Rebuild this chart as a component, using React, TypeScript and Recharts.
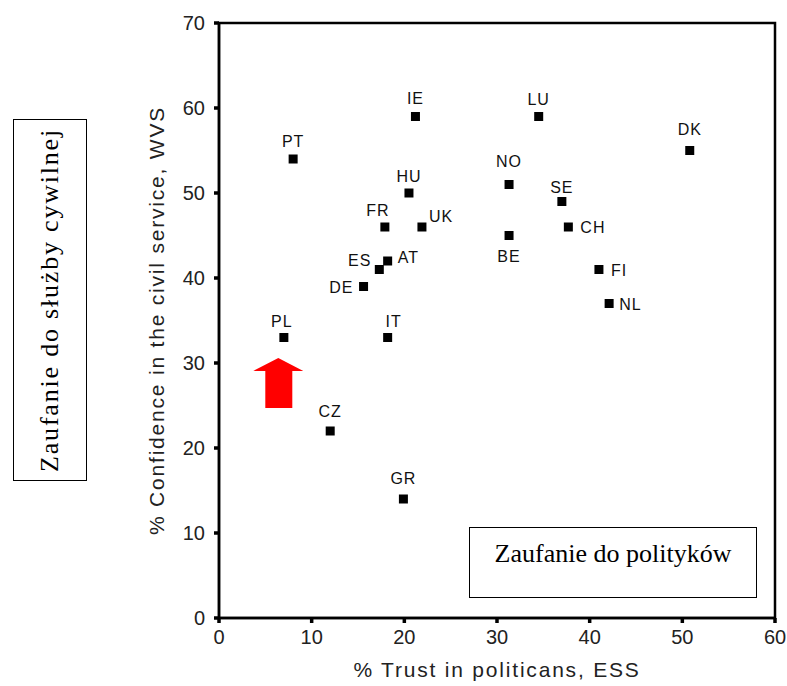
import { ReferenceArea, ReferenceDot, Scatter, ScatterChart, XAxis, YAxis } from "recharts";

// countries and their values
const countries = ["IE", "PT", "HU", "FR", "UK", "ES", "AT", "DE", "PL", "IT", "CZ", "GR", "LU", "DK", "NO", "SE", "CH", "BE", "FI", "NL"];
const trustInPoliticians = [21.2, 8.0, 20.5, 17.9, 21.9, 17.3, 18.2, 15.6, 7.0, 18.2, 12.0, 19.9, 34.5, 50.8, 31.3, 37.0, 37.7, 31.3, 41.0, 42.1];
const confidenceCivilService = [59, 54, 50, 46, 46, 41, 42, 39, 33, 33, 22, 14, 59, 55, 51, 49, 46, 45, 41, 37];

const xTicks = [0, 10, 20, 30, 40, 50, 60];
const yTicks = [0, 10, 20, 30, 40, 50, 60, 70];

// label layout: [dx, dy, anchor] relative to the marker centre
const labelLayout: Record<string, [number, number, "start" | "middle" | "end"]> = {
  IE: [0, -13, "middle"],
  PT: [0, -12, "middle"],
  HU: [0, -11, "middle"],
  FR: [-7, -11, "middle"],
  UK: [7, -5, "start"],
  ES: [-8, -4, "end"],
  AT: [10, 2, "start"],
  DE: [-10, 6, "end"],
  PL: [-2, -11, "middle"],
  IT: [6, -11, "middle"],
  CZ: [0, -14, "middle"],
  GR: [0, -15, "middle"],
  LU: [0, -12, "middle"],
  DK: [0, -16, "middle"],
  NO: [0, -18, "middle"],
  SE: [0, -9, "middle"],
  CH: [12, 6, "start"],
  BE: [0, 26, "middle"],
  FI: [12, 6, "start"],
  NL: [10, 6, "start"],
};

const points = countries.map((code, i) => ({ code, x: trustInPoliticians[i], y: confidenceCivilService[i] }));

const sans = "'Liberation Sans', Arial, sans-serif";
const serif = "'Liberation Serif', 'Times New Roman', serif";

function CountryMarker(props: any) {
  const { cx, cy, payload } = props;
  const [dx, dy, anchor] = labelLayout[payload.code] ?? [0, -12, "middle"];
  return (
    <g>
      <rect x={cx - 4.5} y={cy - 4.5} width={9} height={9} fill="#000" />
      <text x={cx + dx} y={cy + dy} textAnchor={anchor} fontFamily={sans} fontSize={16} letterSpacing={1} fill="#111">
        {payload.code}
      </text>
    </g>
  );
}

function RedArrow(props: any) {
  const { cx, cy } = props;
  const d = `M${cx},${cy} L${cx + 25},${cy + 13} L${cx + 14},${cy + 13} L${cx + 14},${cy + 50} L${cx - 13},${cy + 50} L${cx - 13},${cy + 13} L${cx - 25},${cy + 13} Z`;
  return <path d={d} fill="#ff0000" />;
}

export default function App() {
  return (
    <div style={{ position: "absolute", left: 0, top: 0, width: 787, height: 686, background: "#fff" }}>
      <ScatterChart width={787} height={686} margin={{ top: 23, right: 12, bottom: 6, left: 159 }}>
        <XAxis
          type="number"
          dataKey="x"
          domain={[0, 60]}
          ticks={xTicks}
          axisLine={{ stroke: "#000", strokeWidth: 2.5 }}
          tickLine={{ stroke: "#000", strokeWidth: 3.5 }}
          tickSize={5}
          tickMargin={7}
          height={62}
          tick={{ fill: "#222", fontSize: 20, fontFamily: sans }}
          label={{ value: "% Trust in politicans, ESS", position: "insideBottom", offset: 3, fill: "#222", fontSize: 21, fontFamily: sans, letterSpacing: 1.8 }}
        />
        <YAxis
          type="number"
          dataKey="y"
          domain={[0, 70]}
          ticks={yTicks}
          axisLine={{ stroke: "#000", strokeWidth: 2.5 }}
          tickLine={{ stroke: "#000", strokeWidth: 3.5 }}
          tickSize={5}
          tickMargin={9}
          width={60}
          tick={{ fill: "#222", fontSize: 20, fontFamily: sans }}
          label={{
            value: "% Confidence in the civil service, WVS",
            angle: -90,
            position: "insideLeft",
            offset: -2,
            fill: "#222",
            fontSize: 21,
            fontFamily: sans,
            letterSpacing: 1.8,
            style: { textAnchor: "middle" },
          }}
        />
        <ReferenceArea x1={0} x2={60} y1={0} y2={70} fill="none" stroke="#000" strokeWidth={2.5} />
        <Scatter data={points} shape={CountryMarker} isAnimationActive={false} />
        <ReferenceDot x={6.4} y={30.6} r={1} shape={RedArrow} />
      </ScatterChart>

      <div
        style={{
          position: "absolute",
          left: 13,
          top: 119,
          width: 72,
          height: 360,
          border: "1.5px solid #000",
          display: "flex",
          alignItems: "center",
          justifyContent: "center",
          background: "#fff",
        }}
      >
        <div style={{ writingMode: "vertical-rl", transform: "rotate(180deg)", fontFamily: serif, fontSize: 26, letterSpacing: 1.8, whiteSpace: "nowrap" }}>
          Zaufanie do służby cywilnej
        </div>
      </div>

      <div
        style={{
          position: "absolute",
          left: 469,
          top: 527,
          width: 288,
          height: 71,
          border: "1.5px solid #000",
          boxSizing: "border-box",
          background: "#fff",
          fontFamily: serif,
          fontSize: 26,
          textAlign: "center",
          paddingTop: 11,
        }}
      >
        Zaufanie do polityków
      </div>
    </div>
  );
}
